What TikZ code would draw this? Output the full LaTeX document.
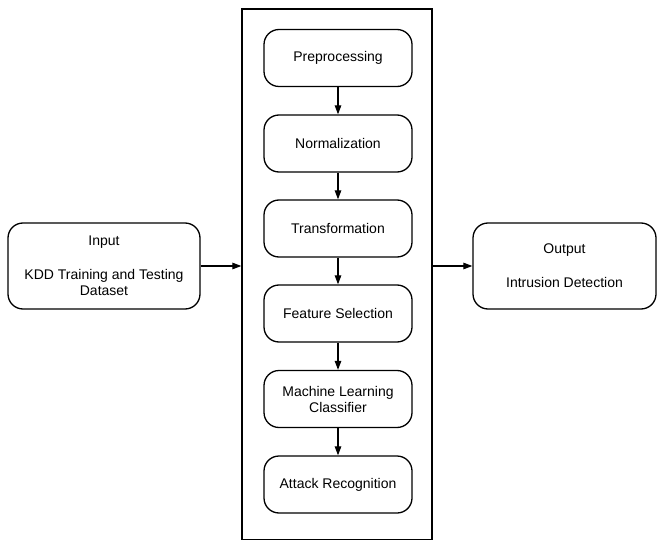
\documentclass[tikz,border=0pt]{standalone}
\usepackage{fontspec}
\setmainfont{Liberation Sans}
\usetikzlibrary{arrows.meta}
\begin{document}
\begin{tikzpicture}[x=1pt,y=-1pt,
  box/.style={draw, line width=1.3pt, rounded corners=15pt, align=center,
    font=\fontsize{14}{16}\selectfont, inner sep=0pt},
  stage/.style={box, minimum width=148pt, minimum height=57pt},
  side/.style={box, minimum height=86pt},
  arr/.style={line width=1.2pt, -{Triangle[length=9pt,width=6.5pt]}}]
\useasboundingbox (0,0) rectangle (661,540);
\node[draw, line width=1.3pt, minimum width=190pt, minimum height=531pt, inner sep=0pt] (frame) at (337,274.5) {};
\node[stage] (pre) at (338,58) {Preprocessing};
\node[stage] (norm) at (338,143.5) {Normalization};
\node[stage] (trans) at (338,228.5) {Transformation};
\node[stage] (feat) at (338,313.5) {Feature Selection};
\node[stage] (ml) at (338,399) {Machine Learning\\Classifier};
\node[stage] (att) at (338,484.5) {Attack Recognition};
\node[side, minimum width=192pt] (in) at (104,266) {Input\\[18pt]KDD Training and Testing\\Dataset};
\node[side, minimum width=183pt] (out) at (564.5,266) {Output\\[18pt]Intrusion Detection};
\draw[arr] (pre) -- (norm);
\draw[arr] (norm) -- (trans);
\draw[arr] (trans) -- (feat);
\draw[arr] (feat) -- (ml);
\draw[arr] (ml) -- (att);
\draw[arr] (in.east) -- (in.east -| frame.west);
\draw[arr] (out.west -| frame.east) -- (out.west);
\end{tikzpicture}
\end{document}
